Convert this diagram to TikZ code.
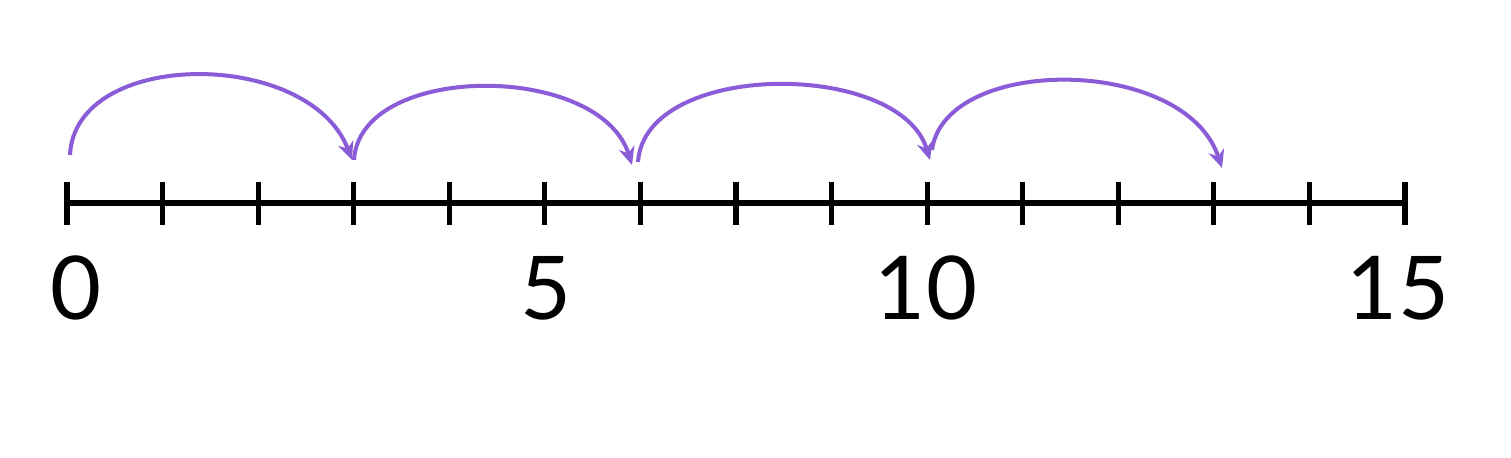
\documentclass[tikz,border=0pt]{standalone}
\usepackage{fontspec}
\setmainfont{Lato}
\usetikzlibrary{arrows.meta}
\definecolor{arc}{HTML}{8A5CD8}
\tikzset{axis/.style={line width=2.6pt,black},
 jump/.style={line width=2pt,arc,-{Stealth[length=9pt,width=8pt]}},
 num/.style={font=\fontsize{44}{44}\selectfont,anchor=center}}
\begin{document}
\begin{tikzpicture}[x=0.5pt,y=-0.5pt]
\useasboundingbox (0,0) rectangle (1511,458);
\foreach \i in {0,...,14}{
 \coordinate (t\i) at ({67+\i*95.57},203);
 \draw[axis] ({67+\i*95.57},182) -- ({67+\i*95.57},225);
}
\draw[axis] (t0) -- (t14);
\node[num] (n0) at (76,288) {0};
\node[num] (n5) at (546,288) {5};
\node[num] (n10) at (926,288) {10};
\node[num] (n15) at (1398,288) {15};
\coordinate (a0) at (70,155);
\coordinate (a1) at (352,160);
\coordinate (a1b) at (354,160);
\coordinate (a2) at (632,165);
\coordinate (a2b) at (638,162);
\coordinate (a3) at (930,160);
\coordinate (a3b) at (932,150);
\coordinate (a4) at (1222,168);
\draw[jump] (a0) .. controls (75,48) and (310,48) .. (a1);
\draw[jump] (a1b) .. controls (360,62) and (600,62) .. (a2);
\draw[jump] (a2b) .. controls (645,60) and (900,60) .. (a3);
\draw[jump] (a3b) .. controls (945,55) and (1185,55) .. (a4);
\end{tikzpicture}
\end{document}
